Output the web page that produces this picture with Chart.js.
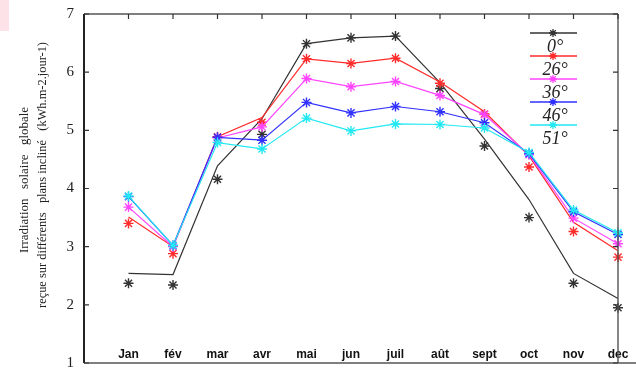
<!DOCTYPE html>
<html>
<head>
<meta charset="utf-8">
<script src="https://cdn.jsdelivr.net/npm/chart.js@4.4.1/dist/chart.umd.min.js"></script>
<style>
  html, body { margin: 0; padding: 0; background: #fff; }
  #wrap { position: relative; width: 636px; height: 370px; }
</style>
</head>
<body>
<div id="wrap"><canvas id="chart" width="636" height="370"></canvas></div>
<script>
// months along the x axis
const months = ['Jan', 'fév', 'mar', 'avr', 'mai', 'jun', 'juil', 'aût', 'sept', 'oct', 'nov', 'dec'];
const seriesLabels = ['0°', '26°', '36°', '46°', '51°'];
const seriesColors = ['#333333', '#ff2a2a', '#ff44ff', '#3030ff', '#22e8f2'];
const yTicks = [1, 2, 3, 4, 5, 6, 7];

// lines (kWh.m-2.jour-1)
const line0 = [2.54, 2.52, 4.39, 5.20, 6.49, 6.59, 6.62, 5.82, 4.85, 3.81, 2.54, 2.11];
const line26 = [3.51, 3.00, 4.89, 5.22, 6.23, 6.15, 6.24, 5.83, 5.32, 4.56, 3.42, 2.93];
const line36 = [3.68, 3.00, 4.87, 5.06, 5.89, 5.75, 5.84, 5.60, 5.27, 4.58, 3.49, 3.05];
const line46 = [3.86, 3.02, 4.88, 4.83, 5.48, 5.30, 5.41, 5.32, 5.13, 4.60, 3.60, 3.21];
const line51 = [3.87, 3.02, 4.79, 4.68, 5.21, 4.99, 5.11, 5.10, 5.04, 4.62, 3.63, 3.24];

// measured points (stars)
const pts0 = [2.37, 2.34, 4.16, 4.93, 6.49, 6.59, 6.62, 5.72, 4.73, 3.50, 2.37, 1.95];
const pts26 = [3.40, 2.88, 4.89, 5.14, 6.23, 6.15, 6.24, 5.81, 5.28, 4.37, 3.26, 2.82];
const pts36 = [3.68, 3.00, 4.87, 5.06, 5.89, 5.75, 5.84, 5.60, 5.27, 4.58, 3.49, 3.05];
const pts46 = [3.86, 3.02, 4.88, 4.83, 5.48, 5.30, 5.41, 5.32, 5.13, 4.60, 3.60, 3.21];
const pts51 = [3.87, 3.02, 4.79, 4.68, 5.21, 4.99, 5.11, 5.10, 5.04, 4.62, 3.63, 3.24];

const lines = [line0, line26, line36, line46, line51];
const points = [pts0, pts26, pts36, pts46, pts51];

const toXY = arr => arr.map((v, i) => ({ x: i + 1, y: v }));

const datasets = [];
lines.forEach((arr, i) => {
    datasets.push({
        label: seriesLabels[i],
        data: toXY(arr),
        borderColor: seriesColors[i],
        borderWidth: 1.2,
        pointRadius: 0,
        tension: 0,
        clip: false,
        order: 20 - i * 2
    });
    datasets.push({
        label: seriesLabels[i] + ' pts',
        data: toXY(points[i]),
        showLine: false,
        pointStyle: 'star',
        pointRadius: 5,
        pointBorderWidth: 1.4,
        pointBorderColor: seriesColors[i],
        pointBackgroundColor: seriesColors[i],
        clip: false,
        order: 19 - i * 2
    });
});

// frame, inward ticks, y title and legend
const decorations = {
    id: 'decorations',
    beforeDraw(chart) {
        const ctx = chart.ctx;
        ctx.save();
        ctx.fillStyle = '#fff';
        ctx.fillRect(0, 0, chart.width, chart.height);
        ctx.fillStyle = '#fde3e8';
        ctx.fillRect(0, 0, 9, 31);
        ctx.restore();
    },
    afterDraw(chart) {
        const ctx = chart.ctx;
        const a = chart.chartArea;
        const xs = chart.scales.x;
        const ys = chart.scales.y;
        ctx.save();

        // frame
        ctx.strokeStyle = '#555';
        ctx.lineWidth = 1.4;
        ctx.beginPath();
        ctx.moveTo(a.left, a.top); ctx.lineTo(a.right, a.top);
        ctx.moveTo(a.right, a.top); ctx.lineTo(a.right, a.bottom);
        ctx.moveTo(a.left, a.bottom); ctx.lineTo(chart.width, a.bottom);
        ctx.stroke();
        ctx.strokeStyle = '#222';
        ctx.lineWidth = 2;
        ctx.beginPath();
        ctx.moveTo(a.left, a.top); ctx.lineTo(a.left, a.bottom);
        ctx.stroke();

        // inward ticks
        ctx.strokeStyle = '#333';
        ctx.lineWidth = 1.2;
        ctx.beginPath();
        months.forEach((m, i) => {
            const px = xs.getPixelForValue(i + 1);
            ctx.moveTo(px, a.top); ctx.lineTo(px, a.top + 5);
        });
        yTicks.forEach(v => {
            const py = ys.getPixelForValue(v);
            ctx.moveTo(a.left, py); ctx.lineTo(a.left + 5, py);
            ctx.moveTo(a.right, py); ctx.lineTo(a.right - 5, py);
        });
        ctx.stroke();

        // y axis title
        ctx.fillStyle = '#222';
        ctx.font = '13.5px "Liberation Serif"';
        ctx.textAlign = 'center';
        ctx.textBaseline = 'middle';
        ctx.save();
        ctx.translate(24, 180);
        ctx.rotate(-Math.PI / 2);
        ctx.fillText('Irradiation   solaire   globale', 0, 0, 146);
        ctx.restore();
        ctx.save();
        ctx.translate(42, 175);
        ctx.rotate(-Math.PI / 2);
        ctx.fillText('reçue sur différents   plans incliné   (kWh.m-2.jour-1)', 0, 0, 266);
        ctx.restore();

        // legend
        seriesLabels.forEach((lab, i) => {
            const ly = 33 + i * 23;
            ctx.strokeStyle = seriesColors[i];
            ctx.lineWidth = 1.3;
            ctx.beginPath();
            ctx.moveTo(530, ly); ctx.lineTo(577, ly);
            ctx.stroke();
            Chart.helpers.drawPoint(ctx, {
                pointStyle: 'star', radius: 4, borderWidth: 1.2, rotation: 0
            }, 553, ly);
            ctx.fillStyle = '#222';
            ctx.font = 'italic 18px "Liberation Serif"';
            ctx.textAlign = 'center';
            ctx.textBaseline = 'middle';
            ctx.fillText(lab, 555, ly + 14);
        });
        ctx.restore();
    }
};

new Chart(document.getElementById('chart'), {
    type: 'line',
    data: { datasets },
    options: {
        responsive: false,
        animation: false,
        layout: { padding: { top: 14, right: 18, bottom: 0, left: 0 } },
        plugins: { legend: { display: false }, tooltip: { enabled: false } },
        scales: {
            x: {
                type: 'linear',
                min: 0,
                max: 12,
                grid: { display: false, drawTicks: false },
                border: { display: false },
                ticks: {
                    stepSize: 1,
                    autoSkip: false,
                    maxRotation: 0,
                    mirror: true,
                    padding: 1,
                    color: '#111',
                    font: { family: '"Liberation Sans", Arial', size: 12, weight: 'bold' },
                    callback: v => months[v - 1] || ''
                },
                afterFit: s => { s.height = 7; s.paddingLeft = 0; s.paddingRight = 0; }
            },
            y: {
                type: 'linear',
                min: 1,
                max: 7,
                grid: { display: false, drawTicks: false },
                border: { display: false },
                ticks: {
                    stepSize: 1,
                    padding: 10,
                    color: '#222',
                    font: { family: '"Liberation Serif", serif', size: 15 }
                },
                afterFit: s => { s.width = 84; s.paddingTop = 0; s.paddingBottom = 0; }
            }
        }
    },
    plugins: [decorations]
});
</script>
</body>
</html>
